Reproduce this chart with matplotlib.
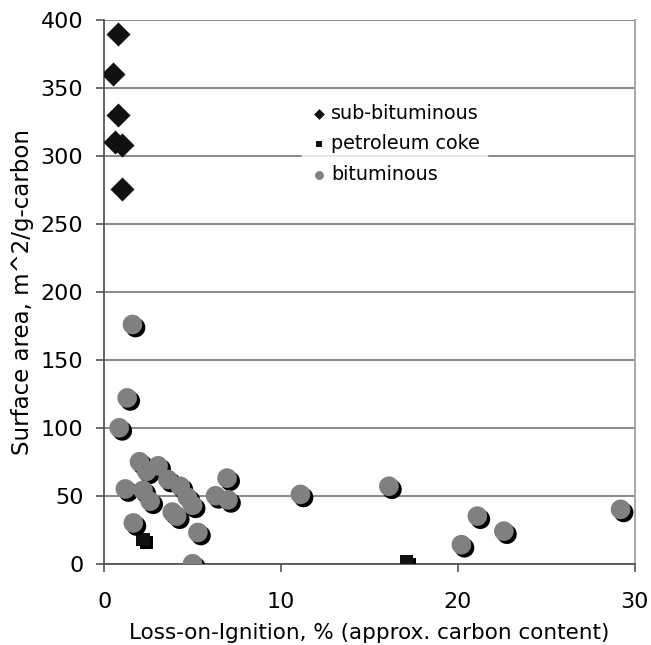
import matplotlib
matplotlib.use("Agg")
import matplotlib.pyplot as plt
import matplotlib.patheffects as pe

# sub-bituminous
sub_x = [0.8, 0.5, 0.8, 0.6, 1.0, 1.0]
sub_y = [390, 360, 330, 310, 308, 276]

# petroleum coke
coke_x = [2.2, 17.1]
coke_y = [18, 1.5]

# bituminous
bit_x = [1.6, 1.3, 0.85, 2.0, 3.05, 2.4, 1.2, 2.2, 3.6, 4.3, 4.7, 2.6, 3.85, 4.1,
         5.0, 6.3, 6.95, 7.0, 1.65, 5.3, 5.0, 11.1, 16.1, 20.2, 21.1, 22.6, 29.2]
bit_y = [176, 122, 100, 75, 72, 68, 55, 54, 62, 57, 49, 46, 38, 35,
         43, 50, 63, 47, 30, 23, 0, 51, 57, 14, 35, 24, 40]

plt.rcParams["font.family"] = "DejaVu Sans"

fig = plt.figure(figsize=(6.51, 6.45), dpi=100)
ax = fig.add_axes([0.160, 0.126, 0.815, 0.843])

shadow = [pe.SimplePatchShadow(offset=(2.2, -2.2), shadow_rgbFace="black", alpha=1.0), pe.Normal()]

s1 = ax.scatter(sub_x, sub_y, marker="D", s=150, color="#111111", linewidths=0,
                label="sub-bituminous", zorder=3)
s2 = ax.scatter(coke_x, coke_y, marker="s", s=90, color="#111111", linewidths=0,
                label="petroleum coke", zorder=3)
s3 = ax.scatter(bit_x, bit_y, marker="o", s=200, color="#808080", linewidths=0,
                label="bituminous", zorder=3)
s2.set_path_effects(shadow)
s3.set_path_effects(shadow)

ax.set_xlim(0, 30)
ax.set_ylim(0, 400)
ax.set_xticks([0, 10, 20, 30])
ax.set_yticks(range(0, 401, 50))
ax.yaxis.grid(True, color="#808080", linewidth=1.3)
ax.set_axisbelow(True)

for side in ("left", "bottom"):
    ax.spines[side].set_color("#555555")
    ax.spines[side].set_linewidth(1.3)
ax.spines["right"].set_color("#a0a0a0")
ax.spines["right"].set_linewidth(1.3)
ax.spines["top"].set_visible(False)
ax.tick_params(axis="both", direction="out", length=6, width=1.2, color="#555555",
               labelsize=16)
ax.tick_params(axis="x", pad=14)
ax.tick_params(axis="y", pad=9)

ax.set_xlabel("Loss-on-Ignition, % (approx. carbon content)", fontsize=15.5, labelpad=8)
ax.set_ylabel("Surface area, m^2/g-carbon", fontsize=16.5, labelpad=5)

leg = ax.legend(loc="upper left", bbox_to_anchor=(0.355, 0.878), frameon=True,
                fontsize=13.8, markerscale=0.45, handletextpad=0.1,
                handlelength=1.0, labelspacing=0.62, borderpad=0.4)
leg.get_frame().set_facecolor("white")
leg.get_frame().set_edgecolor("white")
for h in leg.legend_handles:
    h.set_path_effects([])

fig.savefig("out.png", dpi=100)
